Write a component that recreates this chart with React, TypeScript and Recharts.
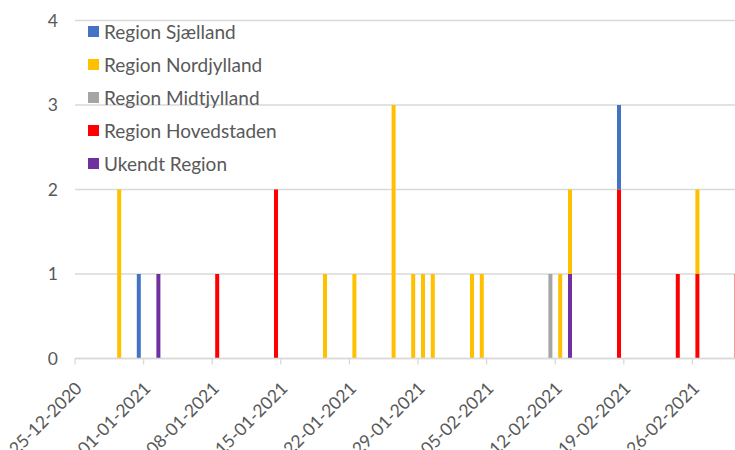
import React from "react";
import { BarChart, Bar, XAxis, YAxis, CartesianGrid, Legend } from "recharts";

const startDate = "25-12-2020";
const totalDays = 68;
const tickLabels = [
  "25-12-2020", "01-01-2021", "08-01-2021", "15-01-2021", "22-01-2021",
  "29-01-2021", "05-02-2021", "12-02-2021", "19-02-2021", "26-02-2021",
];
const yTicks = [0, 1, 2, 3, 4];

const days = [
  "29-12-2020", "31-12-2020", "02-01-2021", "08-01-2021", "14-01-2021",
  "19-01-2021", "22-01-2021", "26-01-2021", "28-01-2021", "29-01-2021",
  "30-01-2021", "03-02-2021", "04-02-2021", "11-02-2021", "12-02-2021",
  "13-02-2021", "18-02-2021", "24-02-2021", "26-02-2021", "02-03-2021",
];
const sjaelland =   [0, 1, 0, 0, 0, 0, 0, 0, 0, 0, 0, 0, 0, 0, 0, 0, 1, 0, 0, 0];
const nordjylland = [2, 0, 0, 0, 0, 1, 1, 3, 1, 1, 1, 1, 1, 0, 1, 1, 0, 0, 1, 0];
const midtjylland = [0, 0, 0, 0, 0, 0, 0, 0, 0, 0, 0, 0, 0, 1, 0, 0, 0, 0, 0, 0];
const hovedstaden = [0, 0, 0, 1, 2, 0, 0, 0, 0, 0, 0, 0, 0, 0, 0, 0, 2, 1, 1, 1];
const ukendt =      [0, 0, 1, 0, 0, 0, 0, 0, 0, 0, 0, 0, 0, 0, 0, 1, 0, 0, 0, 0];

const series = [
  { key: "sjaelland", name: "Region Sjælland", color: "#4472C4" },
  { key: "nordjylland", name: "Region Nordjylland", color: "#FFC000" },
  { key: "midtjylland", name: "Region Midtjylland", color: "#A5A5A5" },
  { key: "hovedstaden", name: "Region Hovedstaden", color: "#FF0000" },
  { key: "ukendt", name: "Ukendt Region", color: "#7030A0" },
];

const FONT = "Lato, 'Open Sans', sans-serif";
const TEXT = "#595959";
const GRID = "#d9d9d9";
const FS_LEGEND = 19;
const FS_AXIS = 17.5;

const toUtc = (s: string) => {
  const [d, m, y] = s.split("-").map(Number);
  return Date.UTC(y, m - 1, d);
};
const dayIndex = (s: string) => Math.round((toUtc(s) - toUtc(startDate)) / 86400000);

const data = days.map((d, i) => ({
  x: dayIndex(d) + 0.5,
  sjaelland: sjaelland[i],
  nordjylland: nordjylland[i],
  midtjylland: midtjylland[i],
  hovedstaden: hovedstaden[i],
  ukendt: ukendt[i],
}));

const xTicks = tickLabels.map(dayIndex);
const labelFor = (v: number) => tickLabels[xTicks.indexOf(v)] ?? "";

const XTick = (props: any) => {
  const { x, y, payload } = props;
  const tx = x + 8;
  const ty = y + 25;
  return (
    <text
      x={tx}
      y={ty}
      textAnchor="end"
      transform={`rotate(-45 ${tx} ${ty})`}
      fontFamily={FONT}
      fontSize={FS_AXIS}
      fill={TEXT}
    >
      {labelFor(payload.value)}
    </text>
  );
};

const renderLegend = () => (
  <div style={{ fontFamily: FONT, fontSize: FS_LEGEND, color: TEXT }}>
    {series.map((s) => (
      <div key={s.key} style={{ display: "flex", alignItems: "center", height: 33, whiteSpace: "nowrap" }}>
        <span style={{ display: "inline-block", width: 11, height: 11, background: s.color, marginRight: 5 }} />
        <span>{s.name}</span>
      </div>
    ))}
  </div>
);

// stacking order bottom -> top
const stackOrder = ["ukendt", "hovedstaden", "midtjylland", "nordjylland", "sjaelland"];

export default function App() {
  return (
    <div style={{ position: "fixed", left: 0, top: 0, width: 735, height: 450, overflow: "hidden", background: "#fff" }}>
      <BarChart
        width={750}
        height={450}
        data={data}
        margin={{ top: 20.5, right: 8.6, left: 0, bottom: 0 }}
      >
        <CartesianGrid horizontal vertical={false} stroke={GRID} strokeWidth={1.3} />
        <XAxis
          type="number"
          dataKey="x"
          domain={[0, totalDays]}
          ticks={xTicks}
          interval={0}
          height={91.5}
          stroke={GRID}
          axisLine={{ stroke: GRID, strokeWidth: 1.3 }}
          tickLine={{ stroke: GRID, strokeWidth: 1.3 }}
          tickSize={6}
          tickMargin={0}
          tick={<XTick />}
          allowDataOverflow
        />
        <YAxis
          domain={[0, 4]}
          ticks={yTicks}
          width={75}
          axisLine={false}
          tickLine={false}
          tickSize={0}
          tickMargin={17}
          tick={{ fontFamily: FONT, fontSize: FS_AXIS, fill: TEXT }}
          allowDataOverflow
        />
        <Legend
          layout="vertical"
          align="center"
          verticalAlign="middle"
          content={renderLegend}
          wrapperStyle={{ position: "absolute", left: 88, top: 15, width: 280 }}
        />
        {stackOrder.map((k) => {
          const s = series.find((q) => q.key === k)!;
          return (
            <Bar
              key={k}
              dataKey={k}
              name={s.name}
              stackId="a"
              fill={s.color}
              barSize={4}
              isAnimationActive={false}
            />
          );
        })}
      </BarChart>
    </div>
  );
}
